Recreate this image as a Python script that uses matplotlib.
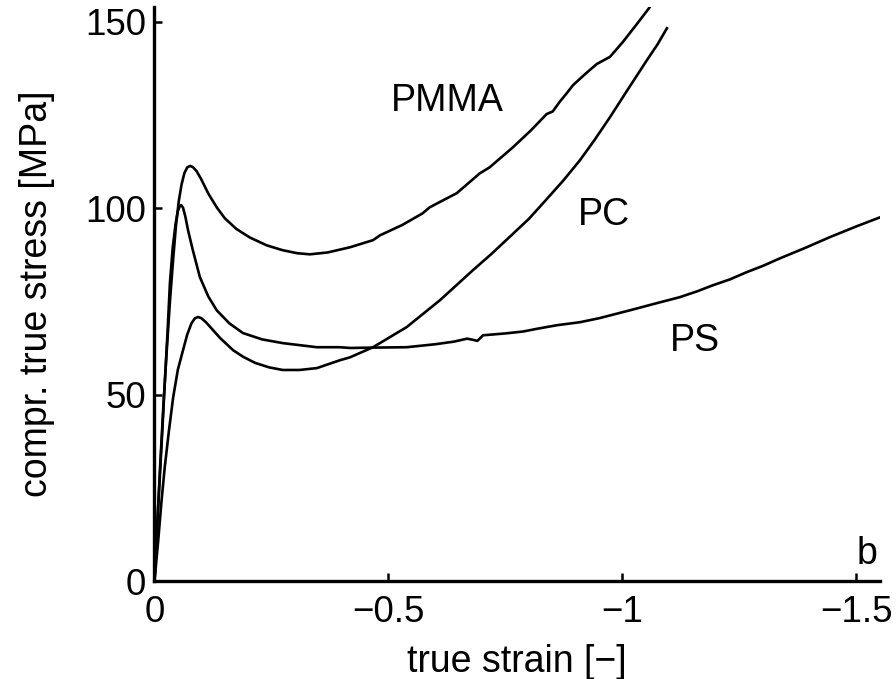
import matplotlib.pyplot as plt

plt.rcParams['font.family'] = ['Liberation Sans', 'DejaVu Sans']

# compressive true strain (negative) and true stress [MPa]
pmma_strain = [0, -0.006, -0.012, -0.019, -0.026, -0.033, -0.040, -0.046, -0.052, -0.058,
               -0.064, -0.070, -0.076, -0.082, -0.090, -0.100, -0.115, -0.133, -0.150,
               -0.175, -0.204, -0.240, -0.274, -0.305, -0.332, -0.370, -0.418, -0.467,
               -0.482, -0.530, -0.573, -0.588, -0.646, -0.695, -0.716, -0.766, -0.805,
               -0.838, -0.851, -0.866, -0.881, -0.894, -0.920, -0.945, -0.958, -0.973,
               -1.000, -1.030, -1.058, -1.066]
pmma_stress = [0, 15.5, 30.7, 47.0, 61.5, 75.0, 86.5, 95.5, 102.0, 106.5,
               109.5, 111.0, 111.4, 111.1, 110.0, 107.8, 104.0, 100.3, 97.4,
               94.5, 92.2, 90.1, 88.8, 88.0, 87.7, 88.2, 89.6, 91.5,
               92.8, 95.6, 98.7, 100.3, 104.1, 109.4, 111.0, 116.4, 121.0,
               125.3, 126.0, 128.6, 130.9, 133.0, 136.0, 138.7, 139.6, 140.6,
               144.5, 149.3, 153.9, 155.5]

pc_strain = [0, -0.008, -0.015, -0.022, -0.031, -0.040, -0.050, -0.061, -0.070, -0.079,
             -0.086, -0.093, -0.100, -0.110, -0.125, -0.140, -0.168, -0.190, -0.215,
             -0.245, -0.274, -0.310, -0.347, -0.396, -0.418, -0.467, -0.539, -0.610,
             -0.680, -0.720, -0.760, -0.800, -0.836, -0.873, -0.909, -0.940, -0.973,
             -1.012, -1.052, -1.075, -1.095]
pc_stress = [0, 11.0, 21.5, 30.7, 40.5, 49.4, 56.8, 62.0, 66.2, 69.2,
             70.5, 70.9, 70.6, 69.5, 67.4, 65.3, 62.0, 60.2, 58.6,
             57.4, 56.7, 56.7, 57.2, 59.3, 60.1, 62.8, 68.2, 75.4,
             83.4, 87.8, 92.5, 97.2, 102.2, 107.4, 112.9, 118.3, 124.4,
             132.0, 139.7, 144.0, 148.3]

ps_strain = [0, -0.005, -0.011, -0.017, -0.022, -0.028, -0.033, -0.039, -0.045, -0.050,
             -0.054, -0.057, -0.061, -0.066, -0.072, -0.082, -0.097, -0.115, -0.133,
             -0.160, -0.189, -0.230, -0.274, -0.347, -0.396, -0.418, -0.470, -0.539,
             -0.600, -0.640, -0.668, -0.680, -0.690, -0.702, -0.750, -0.787, -0.820,
             -0.860, -0.909, -0.951, -1.016, -1.070, -1.122, -1.160,
             -1.193, -1.230, -1.265, -1.300, -1.336, -1.390, -1.443, -1.500, -1.550]
ps_stress = [0, 13.0, 27.0, 41.0, 53.2, 67.0, 80.0, 89.5, 95.8, 99.3,
             100.6, 100.9, 100.2, 97.8, 94.0, 88.8, 81.6, 76.4, 72.7,
             69.2, 66.6, 64.9, 63.9, 62.8, 62.8, 62.6, 62.7, 62.8,
             63.6, 64.3, 65.1, 64.8, 64.5, 66.0, 66.5, 67.0, 67.8,
             68.7, 69.5, 70.6, 72.7, 74.5, 76.2, 77.8,
             79.4, 81.0, 82.9, 84.6, 86.6, 89.4, 92.3, 95.2, 97.6]

x_ticks = [0, -0.5, -1, -1.5]
x_tick_labels = ['0', '\u22120.5', '\u22121', '\u22121.5']
y_ticks = [0, 50, 100, 150]

fig = plt.figure(figsize=(8.96, 6.79), dpi=100)
ax = fig.add_axes([0.1724, 0.1436, 0.8096, 0.8461])

for s, t in [(pmma_strain, pmma_stress), (pc_strain, pc_stress), (ps_strain, ps_stress)]:
    ax.plot(s, t, color='black', linewidth=1.9, solid_joinstyle='round')

ax.set_xlim(0, -1.55)
ax.set_ylim(0, 154)
ax.set_xticks(x_ticks)
ax.set_xticklabels(x_tick_labels)
ax.set_yticks(y_ticks)

ax.spines['top'].set_visible(False)
ax.spines['right'].set_visible(False)
ax.spines['left'].set_linewidth(2.4)
ax.spines['bottom'].set_linewidth(2.4)
ax.tick_params(direction='in', length=6, width=1.8, labelsize=26.5)
ax.tick_params(axis='x', pad=10)
ax.tick_params(axis='y', pad=6)

ax.set_xlabel('true strain [\u2212]', fontsize=27, labelpad=10)
ax.set_ylabel('compr. true stress [MPa]', fontsize=27, labelpad=22)

ax.text(-0.625, 128.7, 'PMMA', fontsize=27, ha='center', va='center')
ax.text(-0.960, 98.2, 'PC', fontsize=27, ha='center', va='center')
ax.text(-1.154, 64.5, 'PS', fontsize=27, ha='center', va='center')
ax.text(-1.523, 7.5, 'b', fontsize=27, ha='center', va='center')

fig.savefig('out.png', dpi=100)
